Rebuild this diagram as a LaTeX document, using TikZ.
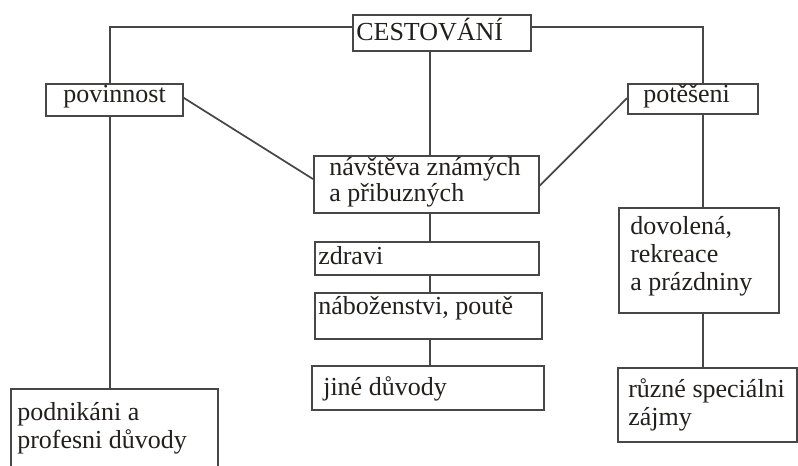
\documentclass[tikz,border=0pt]{standalone}
\usepackage{fontspec}
\setmainfont{Liberation Serif}
\newfontfamily\lblfont{Liberation Serif}
\definecolor{ln}{HTML}{474747}
\definecolor{tx}{HTML}{231F1C}
\newcommand\mkbox[5]{\node[bx, anchor=north west, minimum width={(#4-#2)*0.75pt}, minimum height={(#5-#3)*0.75pt}] (#1) at (#2,#3) {};}
\begin{document}
\begin{tikzpicture}[x=0.75pt,y=-0.75pt,
  bx/.style={draw=ln, line width=1.3pt, fill=white, inner sep=0pt, rectangle},
  conn/.style={draw=ln, line width=1.3pt},
  lbl/.style={anchor=base west, inner sep=0pt, text=tx, font=\lblfont\fontsize{19.5}{21}\selectfont, align=left}]
\useasboundingbox (0,0) rectangle (798,466);
% boxes
\mkbox{cest}{352}{14}{530}{50}
\mkbox{pov}{45}{83}{182}{115}
\mkbox{pot}{627}{83}{757}{113}
\mkbox{nav}{313}{155}{538}{212}
\mkbox{zdr}{314}{241}{538}{274}
\mkbox{nab}{314}{292}{541}{338}
\mkbox{jin}{311}{365}{543}{409}
\mkbox{dov}{618}{207}{778}{312}
\mkbox{ruz}{617}{367}{796}{441}
\mkbox{pod}{10}{388}{217}{474}
% connector helper coordinates
\coordinate (lc) at (110,27);
\coordinate (rc) at (703,27);
\coordinate (mc) at (430,50);
% connectors
\draw[conn] (cest.west |- lc) -- (lc) -- (lc |- pov.north);
\draw[conn] (cest.east |- rc) -- (rc) -- (rc |- pot.north);
\draw[conn] (lc |- pov.south) -- (lc |- pod.north);
\draw[conn] (rc |- pot.south) -- (rc |- dov.north);
\draw[conn] (rc |- dov.south) -- (rc |- ruz.north);
\draw[conn] (mc |- cest.south) -- (mc |- nav.north);
\draw[conn] (mc |- nav.south) -- (mc |- zdr.north);
\draw[conn] (mc |- zdr.south) -- (mc |- nab.north);
\draw[conn] (mc |- nab.south) -- (mc |- jin.north);
\draw[conn] ([yshift=1.5pt]pov.east) -- ([yshift=4pt]nav.west);
\draw[conn] ([yshift=-1pt]nav.east) -- ([yshift=0.5pt]pot.west);
% texts (base = baseline of the last line)
\node[lbl] (tcest) at (356,41) {CESTOVÁNÍ};
\node[lbl] (tpov) at (63,103) {povinnost};
\node[lbl] (tpot) at (643,103) {potěšeni};
\node[lbl] (tnav) at (329,202) {návštěva známých\\[-1.5pt]a přibuzných};
\node[lbl] (tzdr) at (318,264) {zdravi};
\node[lbl] (tnab) at (318,314) {náboženstvi, poutě};
\node[lbl] (tjin) at (323,395) {jiné důvody};
\node[lbl] (tdov) at (630,291) {dovolená,\\rekreace\\a prázdniny};
\node[lbl] (truz) at (628,425) {různé speciálni\\zájmy};
\node[lbl] (tpod) at (17,448) {podnikáni a\\profesni důvody};
\end{tikzpicture}
\end{document}
